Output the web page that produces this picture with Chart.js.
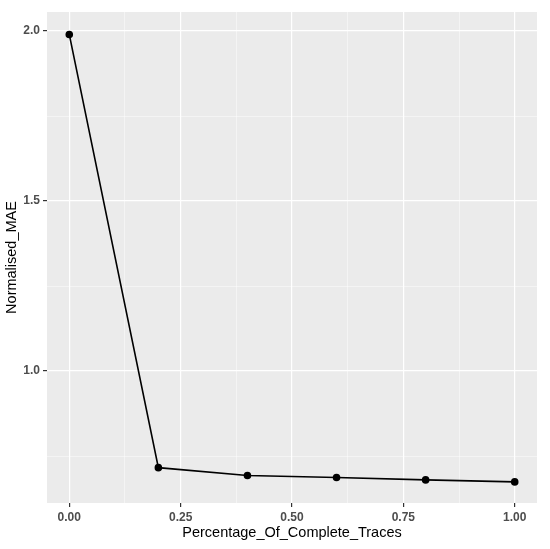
<!DOCTYPE html>
<html>
<head>
<meta charset="utf-8">
<script src="https://cdn.jsdelivr.net/npm/chart.js@4"></script>
<style>
  html, body { margin: 0; padding: 0; background: #fff; }
  #wrap { width: 550px; height: 549px; }
</style>
</head>
<body>
<div id="wrap"><canvas id="chart" width="550" height="549"></canvas></div>
<script>
// data
const traceShare = [0, 0.2, 0.4, 0.6, 0.8, 1.0];
const normalisedMae = [1.99, 0.716, 0.693, 0.687, 0.680, 0.674];
const xTicks = [0, 0.125, 0.25, 0.375, 0.5, 0.625, 0.75, 0.875, 1.0];
const xMajor = [0, 0.25, 0.5, 0.75, 1.0];
const yTicks = [0.75, 1.0, 1.25, 1.5, 1.75, 2.0];
const yMajor = [1.0, 1.5, 2.0];

const isMajor = (list, v) => list.some(m => Math.abs(m - v) < 1e-6);

// grey panel behind the plot (ggplot look)
const panelBg = {
  id: 'panelBg',
  beforeDraw(chart) {
    const { ctx, chartArea: a } = chart;
    ctx.save();
    ctx.fillStyle = '#EBEBEB';
    ctx.fillRect(a.left, a.top, a.right - a.left, a.bottom - a.top);
    ctx.restore();
  }
};

const tickFont = { family: 'Liberation Sans, Arial, sans-serif', size: 12, weight: 'bold' };
const titleFont = { family: 'Liberation Sans, Arial, sans-serif', size: 14.5 };

new Chart(document.getElementById('chart').getContext('2d'), {
  type: 'line',
  data: {
    datasets: [{
      data: traceShare.map((x, i) => ({ x, y: normalisedMae[i] })),
      borderColor: '#000',
      backgroundColor: '#000',
      borderWidth: 1.6,
      pointRadius: 3,
      pointHoverRadius: 3,
      tension: 0
    }]
  },
  plugins: [panelBg],
  options: {
    responsive: false,
    animation: false,
    layout: { padding: { top: 12, right: 13, left: 0, bottom: 0 } },
    plugins: { legend: { display: false }, tooltip: { enabled: false } },
    scales: {
      x: {
        type: 'linear',
        min: -0.05,
        max: 1.05,
        afterBuildTicks: s => { s.ticks = xTicks.map(v => ({ value: v })); },
        afterFit: s => { s.height = 46; },
        border: { display: false },
        grid: {
          color: c => isMajor(xMajor, c.tick.value) ? '#FFFFFF' : 'rgba(255,255,255,0.75)',
          lineWidth: c => isMajor(xMajor, c.tick.value) ? 1.2 : 0.6,
          tickColor: c => isMajor(xMajor, c.tick.value) ? '#333333' : 'rgba(0,0,0,0)',
          tickLength: 4,
          drawTicks: true
        },
        ticks: {
          autoSkip: false,
          maxRotation: 0,
          color: '#4D4D4D',
          font: tickFont,
          padding: 3,
          callback: v => isMajor(xMajor, v) ? v.toFixed(2) : ''
        },
        title: {
          display: true,
          text: 'Percentage_Of_Complete_Traces',
          color: '#000',
          font: titleFont,
          padding: { top: 0, bottom: 7 }
        }
      },
      y: {
        type: 'linear',
        min: 0.612,
        max: 2.056,
        afterBuildTicks: s => { s.ticks = yTicks.map(v => ({ value: v })); },
        afterFit: s => { s.width = 47; },
        border: { display: false },
        grid: {
          color: c => isMajor(yMajor, c.tick.value) ? '#FFFFFF' : 'rgba(255,255,255,0.75)',
          lineWidth: c => isMajor(yMajor, c.tick.value) ? 1.2 : 0.6,
          tickColor: c => isMajor(yMajor, c.tick.value) ? '#333333' : 'rgba(0,0,0,0)',
          tickLength: 4,
          drawTicks: true
        },
        ticks: {
          autoSkip: false,
          color: '#4D4D4D',
          font: tickFont,
          padding: 3,
          callback: v => isMajor(yMajor, v) ? v.toFixed(1) : ''
        },
        title: {
          display: true,
          text: 'Normalised_MAE',
          color: '#000',
          font: titleFont,
          padding: { top: 3, bottom: 0 }
        }
      }
    }
  }
});
</script>
</body>
</html>
